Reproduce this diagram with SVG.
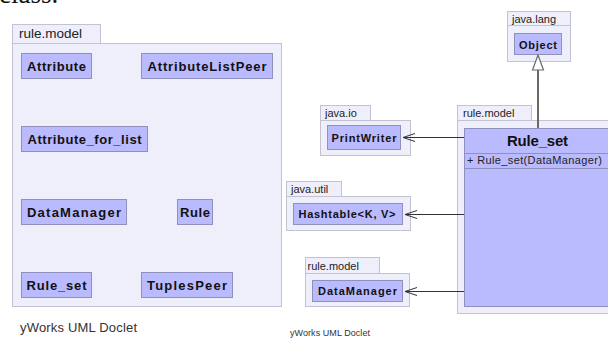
<svg xmlns="http://www.w3.org/2000/svg" width="608" height="338" viewBox="0 0 608 338">
  <style>
    .pkg { fill: #efeffb; stroke: #c2c2d2; stroke-width: 1; }
    .cls { fill: #babaff; stroke: #9090bc; stroke-width: 1; }
    .pkgLbl { font-family: "Liberation Sans", Arial, sans-serif; fill: #222; }
    .clsLbl { font-family: "Liberation Sans", Arial, sans-serif; font-weight: bold; fill: #111; text-anchor: middle; }
    .dep { stroke: #333; stroke-width: 1; fill: none; }
    .gen { stroke: #6a6a6a; stroke-width: 2; fill: none; }
    .foot { font-family: "Liberation Sans", Arial, sans-serif; fill: #333; }
  </style>
  <defs>
    <!-- open "V" head for dependencies; tip sits on the line end -->
    <marker id="openArrow" viewBox="0 0 14 10" refX="13" refY="5" markerWidth="14" markerHeight="10" markerUnits="userSpaceOnUse" orient="auto">
      <path d="M1,1 L13,5 L1,9" fill="none" stroke="#333" stroke-width="1"/>
    </marker>
    <!-- hollow triangle for generalization; its base sits on the line end -->
    <marker id="hollowTri" viewBox="0 0 17 14" refX="1" refY="7" markerWidth="17" markerHeight="14" markerUnits="userSpaceOnUse" orient="auto">
      <path d="M16,7 L1,12.5 L1,1.5 Z" fill="#fff" stroke="#6a6a6a" stroke-width="1.2"/>
    </marker>
  </defs>

  <rect width="608" height="338" fill="#ffffff"/>

  <!-- trailing line of the preceding paragraph -->
  <text x="-1" y="3" font-family="'Liberation Serif', 'Times New Roman', serif" font-size="27" fill="#111">class.</text>

  <!-- left: package overview -->
  <g id="pkg-rule-model-overview">
    <rect class="pkg" x="12.5" y="24.5" width="88" height="19"/>
    <rect class="pkg" x="12.5" y="43.5" width="269" height="263"/>
    <text class="pkgLbl" x="19" y="38" font-size="13.5">rule.model</text>
  </g>
  <g id="ov-Attribute">
    <rect class="cls" x="21.5" y="53.5" width="70" height="25"/>
    <text class="clsLbl" x="56.5" y="70.5" font-size="13" textLength="59" lengthAdjust="spacing">Attribute</text>
  </g>
  <g id="ov-AttributeListPeer">
    <rect class="cls" x="141.5" y="53.5" width="131" height="25"/>
    <text class="clsLbl" x="207" y="70.5" font-size="13" textLength="119" lengthAdjust="spacing">AttributeListPeer</text>
  </g>
  <g id="ov-Attribute_for_list">
    <rect class="cls" x="21.5" y="126.5" width="126" height="25"/>
    <text class="clsLbl" x="84.5" y="144" font-size="13" textLength="114" lengthAdjust="spacing">Attribute_for_list</text>
  </g>
  <g id="ov-DataManager">
    <rect class="cls" x="21.5" y="199.5" width="105" height="25"/>
    <text class="clsLbl" x="74" y="217" font-size="13" textLength="94" lengthAdjust="spacing">DataManager</text>
  </g>
  <g id="ov-Rule">
    <rect class="cls" x="177.5" y="199.5" width="35" height="25"/>
    <text class="clsLbl" x="195" y="217" font-size="13" textLength="30" lengthAdjust="spacing">Rule</text>
  </g>
  <g id="ov-Rule_set">
    <rect class="cls" x="21.5" y="272.5" width="70" height="25"/>
    <text class="clsLbl" x="56.5" y="290" font-size="13" textLength="60" lengthAdjust="spacing">Rule_set</text>
  </g>
  <g id="ov-TuplesPeer">
    <rect class="cls" x="141.5" y="272.5" width="91" height="25"/>
    <text class="clsLbl" x="187" y="290" font-size="13" textLength="80" lengthAdjust="spacing">TuplesPeer</text>
  </g>
  <text class="foot" x="20" y="332" font-size="13" textLength="117" lengthAdjust="spacing">yWorks UML Doclet</text>

  <!-- right: Rule_set class detail -->
  <g id="pkg-java-lang">
    <rect class="pkg" x="507.5" y="11.5" width="63" height="14"/>
    <rect class="pkg" x="507.5" y="25.5" width="63" height="36"/>
    <text class="pkgLbl" x="512" y="22.5" font-size="11">java.lang</text>
  </g>
  <g id="Object">
    <rect class="cls" x="514.5" y="33.5" width="47" height="21"/>
    <text class="clsLbl" x="538" y="48.5" font-size="11" textLength="38" lengthAdjust="spacing">Object</text>
  </g>

  <g id="pkg-java-io">
    <rect class="pkg" x="320.5" y="105.5" width="50" height="15"/>
    <rect class="pkg" x="320.5" y="120.5" width="90" height="35"/>
    <text class="pkgLbl" x="325" y="116.5" font-size="11">java.io</text>
  </g>
  <g id="PrintWriter">
    <rect class="cls" x="327.5" y="125.5" width="73" height="24"/>
    <text class="clsLbl" x="364" y="141.5" font-size="11" textLength="65" lengthAdjust="spacing">PrintWriter</text>
  </g>

  <g id="pkg-java-util">
    <rect class="pkg" x="286.5" y="181.5" width="55" height="15"/>
    <rect class="pkg" x="286.5" y="196.5" width="124" height="34"/>
    <text class="pkgLbl" x="291" y="192.5" font-size="11">java.util</text>
  </g>
  <g id="Hashtable">
    <rect class="cls" x="293.5" y="203.5" width="109" height="21"/>
    <text class="clsLbl" x="347" y="218" font-size="11" textLength="97" lengthAdjust="spacing">Hashtable&lt;K, V&gt;</text>
  </g>

  <g id="pkg-rule-model-dm">
    <rect class="pkg" x="305.5" y="257.5" width="74" height="16"/>
    <rect class="pkg" x="305.5" y="273.5" width="104" height="33"/>
    <text class="pkgLbl" x="307.5" y="270" font-size="11">rule.model</text>
  </g>
  <g id="DataManager">
    <rect class="cls" x="312.5" y="280.5" width="90" height="21"/>
    <text class="clsLbl" x="357.5" y="295" font-size="11" textLength="79" lengthAdjust="spacing">DataManager</text>
  </g>

  <g id="pkg-rule-model-main">
    <rect class="pkg" x="457.5" y="105.5" width="74" height="15"/>
    <rect class="pkg" x="457.5" y="120.5" width="160" height="193"/>
    <text class="pkgLbl" x="463" y="116.5" font-size="11">rule.model</text>
  </g>
  <g id="Rule_set">
    <rect class="cls" x="464.5" y="128.5" width="147" height="178"/>
    <line x1="464.5" y1="153.5" x2="611.5" y2="153.5" stroke="#9090bc"/>
    <line x1="464.5" y1="168.5" x2="611.5" y2="168.5" stroke="#9090bc"/>
    <text class="clsLbl" x="537.5" y="146" font-size="15" textLength="61" lengthAdjust="spacing">Rule_set</text>
    <text class="pkgLbl" x="467" y="164" font-size="11" fill="#111" textLength="135" lengthAdjust="spacing">+ Rule_set(DataManager)</text>
  </g>

  <g id="connectors">
    <line class="gen" x1="538" y1="128" x2="538" y2="70" marker-end="url(#hollowTri)"/>
    <line class="dep" x1="464" y1="137.5" x2="403" y2="137.5" marker-end="url(#openArrow)"/>
    <line class="dep" x1="464" y1="214.5" x2="405" y2="214.5" marker-end="url(#openArrow)"/>
    <line class="dep" x1="464" y1="291.5" x2="405" y2="291.5" marker-end="url(#openArrow)"/>
  </g>

  <text class="foot" x="290" y="336" font-size="9" textLength="80" lengthAdjust="spacing">yWorks UML Doclet</text>
</svg>
